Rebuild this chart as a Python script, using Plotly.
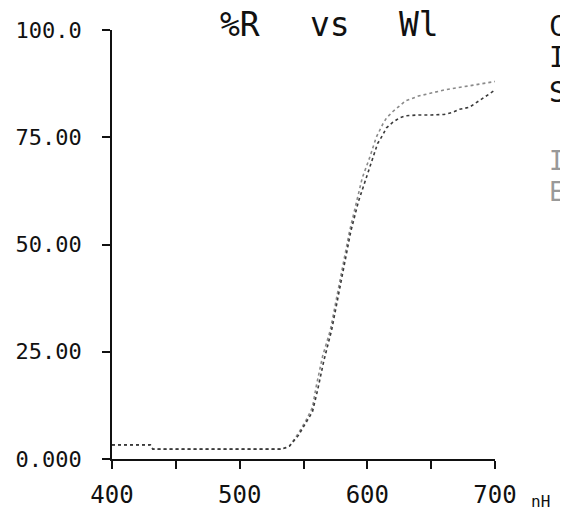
import plotly.graph_objects as go

# --- data ---
wl_a = [400, 430, 432, 533, 539, 546, 552, 557, 560, 565, 571, 575, 580, 586, 592, 596, 602, 607, 612,
        615, 620, 625, 630, 640, 650, 660, 670, 680, 690, 700]
r_a = [3.3, 3.3, 2.3, 2.3, 3.0, 6.0, 9.0, 12.0, 17.0, 24.0, 30.0, 36.0, 44.0, 53.0, 60.5, 65.5, 70.4, 75.0, 78.0,
       79.5, 81.0, 82.3, 83.5, 84.6, 85.3, 86.0, 86.5, 87.0, 87.5, 88.0]

wl_b = [400, 430, 432, 533, 539, 546, 552, 557, 561, 566, 572, 576, 581, 587, 593, 598, 603, 608, 612,
        615, 620, 625, 630, 640, 650, 660, 667, 672, 680, 685, 690, 695, 700]
r_b = [3.3, 3.3, 2.3, 2.3, 3.0, 5.5, 8.5, 11.0, 16.0, 23.0, 30.0, 36.0, 44.0, 53.0, 60.0, 64.5, 69.0, 73.5, 75.5,
       77.2, 78.5, 79.5, 80.0, 80.2, 80.2, 80.3, 80.8, 81.5, 82.0, 83.0, 84.0, 85.0, 86.0]

x_ticks = [400, 500, 600, 700]
x_tick_text = ["400", "500", "600", "700"]
y_ticks = [0, 25, 50, 75, 100]
y_tick_text = ["0.000", "25.00", "50.00", "75.00", "100.0"]

FONT = "DejaVu Sans Mono"

fig = go.Figure()
fig.add_trace(go.Scatter(x=wl_a, y=r_a, mode="lines",
                         line=dict(color="#8a8a8a", width=1.6, dash="dot"), showlegend=False))
fig.add_trace(go.Scatter(x=wl_b, y=r_b, mode="lines",
                         line=dict(color="#3a3a3a", width=1.6, dash="dot"), showlegend=False))

# the page body adds an 8px offset, so the figure is 8px smaller and shifted
fig.update_layout(
    width=560, height=506,
    margin=dict(l=104, r=73, t=22, b=55),
    paper_bgcolor="white", plot_bgcolor="white",
    font=dict(family=FONT, color="#111"),
    xaxis=dict(range=[400, 700], tickmode="array", tickvals=x_ticks, ticktext=x_tick_text,
               ticks="outside", ticklen=8, tickwidth=1.5, tickcolor="#111",
               minor=dict(dtick=50, tick0=400, ticks="outside", ticklen=8, tickwidth=1.5, tickcolor="#111"),
               showline=True, linecolor="#111", linewidth=1.5, showgrid=False, zeroline=False,
               tickfont=dict(family=FONT, size=24, color="#111"), ticklabelstandoff=5,
               automargin=False),
    yaxis=dict(range=[0, 100], tickmode="array", tickvals=y_ticks, ticktext=y_tick_text,
               ticks="outside", ticklen=8, tickwidth=1.5, tickcolor="#111",
               showline=True, linecolor="#111", linewidth=1.5, showgrid=False, zeroline=False,
               tickfont=dict(family=FONT, size=22, color="#111"), ticklabelstandoff=16,
               automargin=False),
)

ann = [
    dict(text="%R", x=0.334, y=1.012),
    dict(text="vs", x=0.569, y=1.012),
    dict(text="Wl", x=0.802, y=1.012),
]
for a in ann:
    fig.add_annotation(xref="paper", yref="paper", showarrow=False, xanchor="center", yanchor="middle",
                       font=dict(family=FONT, size=33, color="#111"), **a)

fig.add_annotation(xref="paper", yref="paper", x=1.088, y=-0.10, text="nH", showarrow=False,
                   xanchor="left", yanchor="middle", font=dict(family=FONT, size=16, color="#111"))

for t, yy in [("C", 1.007), ("I", 0.935), ("S", 0.855)]:
    fig.add_annotation(xref="paper", yref="paper", x=1.135, y=yy, text=t, showarrow=False,
                       xanchor="left", yanchor="middle", font=dict(family=FONT, size=28, color="#111"))
for t, yy in [("I", 0.695), ("E", 0.622)]:
    fig.add_annotation(xref="paper", yref="paper", x=1.135, y=yy, text=t, showarrow=False,
                       xanchor="left", yanchor="middle", font=dict(family=FONT, size=26, color="#999"))

fig.write_html("out.html")
